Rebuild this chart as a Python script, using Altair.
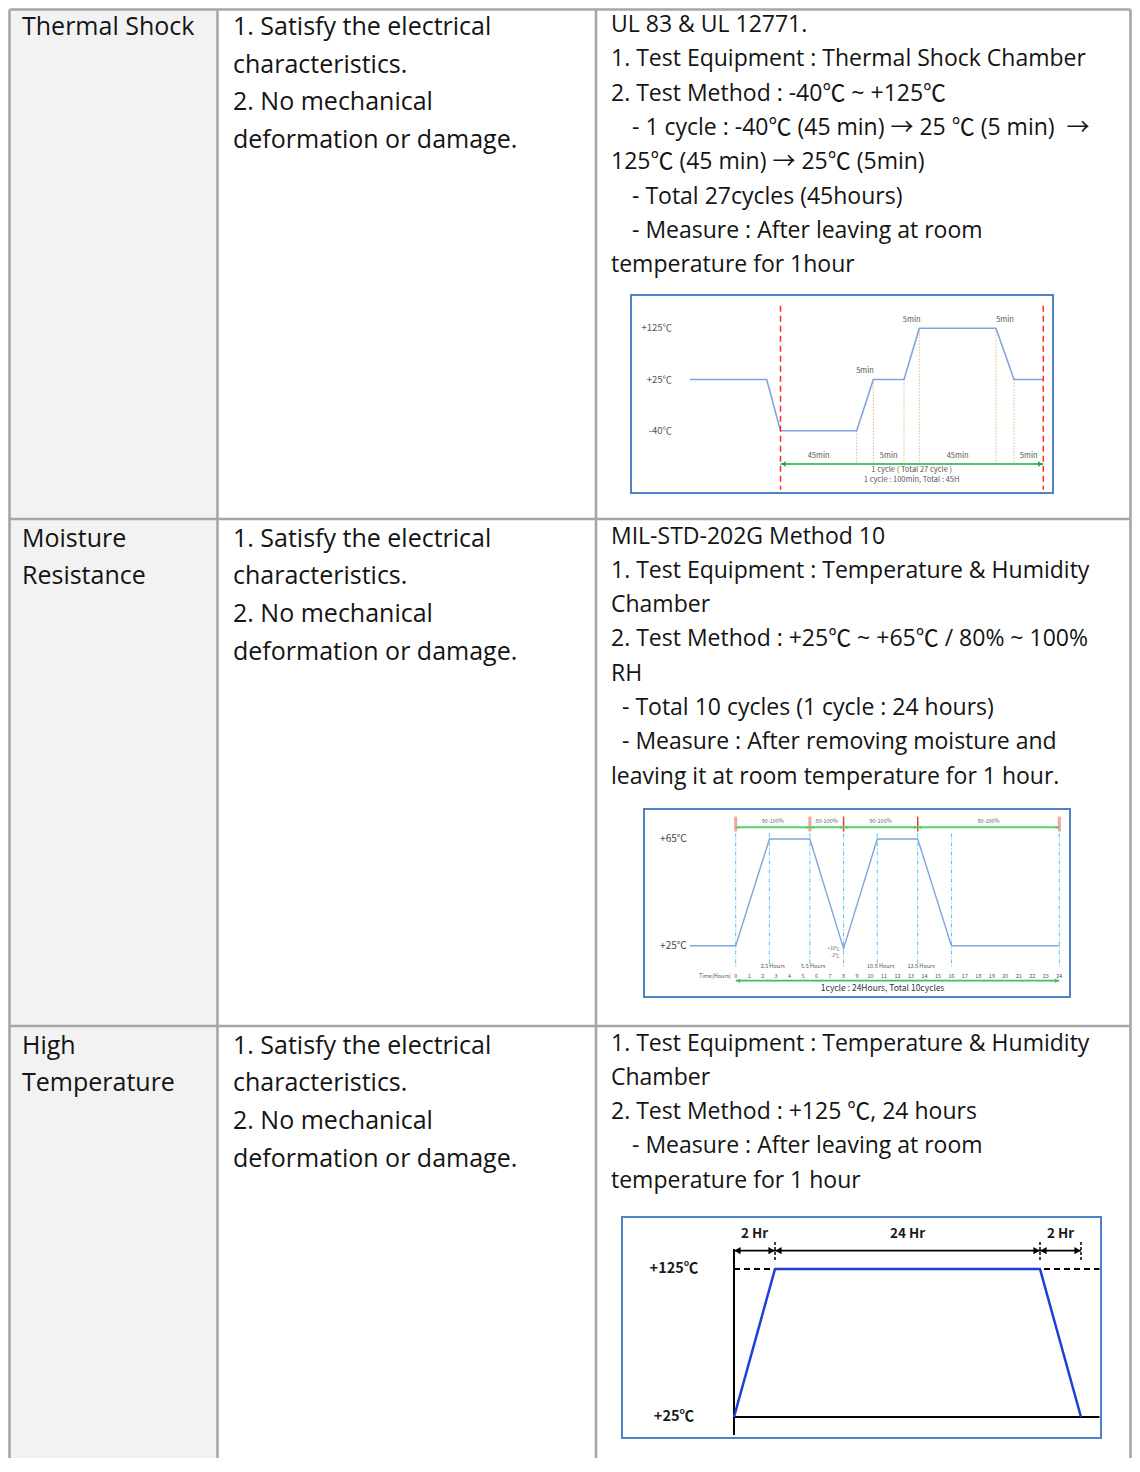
import altair as alt
import pandas as pd

# ============================ DATA ============================
DEG = "\u2103"
ARW = "\u2192"

row_titles = [["Thermal Shock"], ["Moisture", "Resistance"], ["High", "Temperature"]]
criteria = ["1. Satisfy the electrical", "characteristics.", "2. No mechanical",
            "deformation or damage."]
methods = [
    ["UL 83 & UL 12771.",
     "1. Test Equipment : Thermal Shock Chamber",
     f"2. Test Method : -40{DEG} ~ +125{DEG}",
     f"- 1 cycle : -40{DEG} (45 min) {ARW} 25 {DEG} (5 min) \u00a0{ARW}",
     f"125{DEG} (45 min) {ARW} 25{DEG} (5min)",
     "- Total 27cycles (45hours)",
     "- Measure : After leaving at room",
     "temperature for 1hour"],
    ["MIL-STD-202G Method 10",
     "1. Test Equipment : Temperature & Humidity",
     "Chamber",
     f"2. Test Method : +25{DEG} ~ +65{DEG} / 80% ~ 100%",
     "RH",
     "- Total 10 cycles (1 cycle : 24 hours)",
     "- Measure : After removing moisture and",
     "leaving it at room temperature for 1 hour."],
    ["1. Test Equipment : Temperature & Humidity",
     "Chamber",
     f"2. Test Method : +125 {DEG}, 24 hours",
     "- Measure : After leaving at room",
     "temperature for 1 hour"],
]

# Thermal shock profile (minutes on the drawn time line, degC)
ts_minutes = [-35, -5, 0, 45, 50, 55, 60, 105, 110, 115]
ts_temp = [25, 25, -40, -40, 25, 25, 125, 125, 25, 25]
ts_levels = [125, 25, -40]
ts_level_text = [f"+125{DEG}", f"+25{DEG}", f"-40{DEG}"]
ts_step_start = [0, 45, 50, 55, 60, 105, 110]
ts_step_end = [45, 50, 55, 60, 105, 110, 115]
ts_step_text = ["45min", "5min", "5min", "5min", "45min", "5min", "5min"]
ts_step_is_ramp = [False, True, False, True, False, True, False]
ts_cycle_bounds = [0, 115]
ts_notes = ["1 cycle ( Total 27 cycle )", "1 cycle : 100min, Total : 45H"]

# Moisture resistance profile (hours, degC)
mr_hours = [-3.4, 0, 2.5, 5.5, 8, 10.5, 13.5, 16, 24]
mr_temp = [25, 25, 65, 65, 24, 65, 65, 25, 25]
mr_levels = [65, 25]
mr_level_text = [f"+65{DEG}", f"+25{DEG}"]
mr_rh_start = [0, 5.5, 8, 13.5]
mr_rh_end = [5.5, 8, 13.5, 24]
mr_rh_text = ["90-100%", "80-100%", "90-100%", "80-100%"]
mr_marker_soft = [0, 5.5, 24]
mr_marker_hard = [8, 13.5]
mr_guides = [0, 2.5, 5.5, 8, 10.5, 13.5, 16, 24]
mr_phase_hours = [2.5, 5.5, 10.5, 13.5]
mr_phase_text = ["2.5 Hours", "5.5 Hours", "10.5 Hours", "13.5 Hours"]
mr_ticks = list(range(0, 25))
mr_dip_text = [f"+10{DEG}", f"-2{DEG}"]
mr_note = "1cycle : 24Hours, Total 10cycles"

# High temperature profile (hours, degC)
ht_hours = [0, 2, 26, 28]
ht_temp = [25, 125, 125, 25]
ht_levels = [125, 25]
ht_level_text = [f"+125{DEG}", f"+25{DEG}"]
ht_span_start = [0, 2, 26]
ht_span_end = [2, 26, 28]
ht_span_text = ["2 Hr", "24 Hr", "2 Hr"]

# ============================ LAYOUT ============================
PAGE = 8
W, H = 1124, 1450
FONT = "Open Sans, Noto Sans CJK KR, sans-serif"
DFONT = "Noto Sans CJK KR, sans-serif"


def R(vals):
    return [v - PAGE for v in vals]


def lin(domain, rng):
    return alt.Scale(domain=list(domain), range=R(rng), nice=False, zero=False)


def qx(f, s):
    return alt.X(f"{f}:Q", scale=s, axis=None)


def qy(f, s):
    return alt.Y(f"{f}:Q", scale=s, axis=None)


def texts(df, sx, sy, size, color, align="center", weight="normal", font=DFONT):
    return alt.Chart(df).mark_text(
        align=align, baseline="middle", fontSize=size, color=color,
        fontWeight=weight, font=font
    ).encode(x=qx("x", sx), y=qy("y", sy), text="label:N")


def vrules(xs, y1, y2, sx, sy, **style):
    df = pd.DataFrame({"x": list(xs)})
    df["y1"] = y1
    df["y2"] = y2
    return alt.Chart(df).mark_rule(**style).encode(
        x=qx("x", sx), y=qy("y1", sy), y2=alt.Y2("y2"))


def hrules(x1, x2, ys, sx, sy, **style):
    df = pd.DataFrame({"y": list(ys)})
    df["x1"] = x1
    df["x2"] = x2
    return alt.Chart(df).mark_rule(**style).encode(
        x=qx("x1", sx), x2=alt.X2("x2"), y=qy("y", sy))


def arrows(starts, ends, yv, sx, sy, color, width, size, off):
    seg = pd.DataFrame({"a": list(starts), "b": list(ends)})
    seg["y"] = yv
    rule = alt.Chart(seg).mark_rule(color=color, strokeWidth=width).encode(
        x=qx("a", sx), x2=alt.X2("b"), y=qy("y", sy))
    lh = alt.Chart(seg).mark_point(
        shape="triangle-left", filled=True, size=size, color=color, opacity=1,
        strokeWidth=0, xOffset=off).encode(x=qx("a", sx), y=qy("y", sy))
    rh = alt.Chart(seg).mark_point(
        shape="triangle-right", filled=True, size=size, color=color, opacity=1,
        strokeWidth=0, xOffset=-off).encode(x=qx("b", sx), y=qy("y", sy))
    return [rule, lh, rh]


# ---------------- table ----------------
TX = lin([PAGE, PAGE + W], [PAGE, PAGE + W])
TY = lin([PAGE, PAGE + H], [PAGE, PAGE + H])
COL_X = [9.5, 217.5, 596, 1130.5]
ROW_LINE_Y = [9.5, 519, 1026]
ROW_TOP = [7.5, 519, 1026]
BOTTOM = PAGE + H + 6
COL_TEXT_X = [22, 233, 611]
DASH_INDENT = [21, 11, 21]
BIG_FS, BIG_LH, BIG_OFF = 25, 37.7, 19.5
SM_FS, SM_LH, SM_OFF = 23, 34.3, 17.5
FRAMES = [(631, 1053, 295, 493), (644, 1070, 809, 997), (622, 1101, 1217, 1438)]

big_rows, small_rows = [], []
for r in range(3):
    for i, s in enumerate(row_titles[r]):
        big_rows.append({"x": COL_TEXT_X[0], "y": ROW_TOP[r] + BIG_OFF + i * BIG_LH, "label": s})
    for i, s in enumerate(criteria):
        big_rows.append({"x": COL_TEXT_X[1], "y": ROW_TOP[r] + BIG_OFF + i * BIG_LH, "label": s})
    for i, s in enumerate(methods[r]):
        ind = DASH_INDENT[r] if s.startswith("- ") else 0
        small_rows.append({"x": COL_TEXT_X[2] + ind, "y": ROW_TOP[r] + SM_OFF + i * SM_LH,
                           "label": s})

band = alt.Chart(pd.DataFrame({"x": [COL_X[0]], "x2": [COL_X[1]], "y": [COL_X[0]], "y2": [BOTTOM]})
                 ).mark_rect(color="#f2f2f2").encode(
    x=qx("x", TX), x2=alt.X2("x2"), y=qy("y", TY), y2=alt.Y2("y2"))
frames_df = pd.DataFrame(FRAMES, columns=["x", "x2", "y", "y2"])
frames = alt.Chart(frames_df).mark_rect(fill="white", stroke="#4f81c7", strokeWidth=2).encode(
    x=qx("x", TX), x2=alt.X2("x2"), y=qy("y", TY), y2=alt.Y2("y2"))
grid_v = vrules(COL_X, ROW_LINE_Y[0], BOTTOM, TX, TY, color="#a6a6a6", strokeWidth=2.6)
grid_h = hrules(COL_X[0], COL_X[-1], ROW_LINE_Y, TX, TY, color="#a6a6a6", strokeWidth=2.6)
big_text = texts(pd.DataFrame(big_rows), TX, TY, BIG_FS, "#141414", align="left", font=FONT)
small_text = texts(pd.DataFrame(small_rows), TX, TY, SM_FS, "#141414", align="left", font=FONT)
table = alt.layer(band, grid_v, grid_h, frames, big_text, small_text)

# ---------------- diagram 1 : thermal shock ----------------
S1X = lin(ts_minutes, [690, 766.7, 780.5, 856.7, 873.3, 904, 919.3, 996, 1014, 1043.3])
S1Y = lin([-40, 25, 125], [430.7, 379.5, 328.3])
temp_at = dict(zip(ts_minutes, ts_temp))
step_rows = []
for s, e, t, ramp in zip(ts_step_start, ts_step_end, ts_step_text, ts_step_is_ramp):
    yv = max(temp_at[s], temp_at[e]) + 16 if ramp else -72
    step_rows.append({"x": (s + e) / 2, "y": yv, "label": t})
d1 = [
    vrules(ts_step_start[1:], [temp_at[t] for t in ts_step_start[1:]], -80.7, S1X, S1Y,
           color="#f4b183", strokeWidth=1, strokeDash=[1.5, 1.5]),
    alt.Chart(pd.DataFrame({"x": ts_minutes, "y": ts_temp})).mark_line(
        color="#7ea6da", strokeWidth=1.6).encode(x=qx("x", S1X), y=qy("y", S1Y)),
    vrules(ts_cycle_bounds, 169, -115, S1X, S1Y, color="#ff2b2b", strokeWidth=1.5,
           strokeDash=[6, 4]),
    texts(pd.DataFrame(step_rows), S1X, S1Y, 7.5, "#555555"),
    *arrows(ts_cycle_bounds[:1], ts_cycle_bounds[1:], -82.4, S1X, S1Y, "#1fa84a", 1.5, 30, 3),
    texts(pd.DataFrame({"x": [57.5, 57.5], "y": [-90.1, -102.9], "label": ts_notes}),
          S1X, S1Y, 7.5, "#555555"),
    texts(pd.DataFrame({"x": [-42] * 3, "y": ts_levels, "label": ts_level_text}),
          S1X, S1Y, 9.5, "#555555", align="right"),
]
diag1 = alt.layer(*d1)

# ---------------- diagram 2 : moisture resistance ----------------
S2X = lin([0, 24], [735.7, 1059.3])
S2Y = lin([25, 65], [945.7, 839])
d2 = [
    vrules(mr_guides, 67.1, 16.5, S2X, S2Y, color="#4fc3f7", strokeWidth=1,
           strokeDash=[4, 2, 1, 2]),
    alt.Chart(pd.DataFrame({"x": mr_hours, "y": mr_temp})).mark_line(
        color="#7ea6da", strokeWidth=1.4).encode(x=qx("x", S2X), y=qy("y", S2Y)),
    vrules(mr_marker_soft, 67.8, 73.4, S2X, S2Y, color="#f7a1a1", strokeWidth=3),
    vrules(mr_marker_hard, 67.8, 73.4, S2X, S2Y, color="#e53935", strokeWidth=1.5),
    *arrows(mr_rh_start, mr_rh_end, 69.4, S2X, S2Y, "#5ccf6e", 2, 14, 2),
    texts(pd.DataFrame({"x": [(a + b) / 2 for a, b in zip(mr_rh_start, mr_rh_end)],
                        "y": 71.9, "label": mr_rh_text}), S2X, S2Y, 5.5, "#666666"),
    texts(pd.DataFrame({"x": [h + 0.25 for h in mr_phase_hours], "y": 17.4,
                        "label": mr_phase_text}), S2X, S2Y, 5.5, "#555555"),
    texts(pd.DataFrame({"x": mr_ticks, "y": 13.75, "label": [str(t) for t in mr_ticks]}),
          S2X, S2Y, 5.5, "#555555"),
    texts(pd.DataFrame({"x": [-0.35], "y": [13.75], "label": ["Time(Hours)"]}),
          S2X, S2Y, 5.5, "#555555", align="right"),
    *arrows([0], [24], 11.9, S2X, S2Y, "#3fbf5f", 1.6, 20, 2.5),
    texts(pd.DataFrame({"x": [10.9], "y": [9.25], "label": [mr_note]}), S2X, S2Y, 8.5, "#333333"),
    texts(pd.DataFrame({"x": [-3.63] * 2, "y": mr_levels, "label": mr_level_text}),
          S2X, S2Y, 10, "#444444", align="right"),
    texts(pd.DataFrame({"x": [7.7] * 2, "y": [23.7, 21.2], "label": mr_dip_text}),
          S2X, S2Y, 4.5, "#555555", align="right"),
]
diag2 = alt.layer(*d2)

# ---------------- diagram 3 : high temperature ----------------
S3X = lin(ht_hours, [734, 775, 1040, 1081])
S3Y = lin([25, 125], [1417, 1269])
d3 = [
    hrules(0, 28.9, [125], S3X, S3Y, color="black", strokeWidth=2, strokeDash=[6, 4]),
    hrules(0, 28.9, [25], S3X, S3Y, color="black", strokeWidth=2),
    vrules([0], 12.8, 138.5, S3X, S3Y, color="black", strokeWidth=2),
    vrules(ht_span_end, 131.1, 143.2, S3X, S3Y, color="black", strokeWidth=1.5,
           strokeDash=[3, 2]),
    alt.Chart(pd.DataFrame({"x": ht_hours, "y": ht_temp})).mark_line(
        color="#1d3fd6", strokeWidth=2.5).encode(x=qx("x", S3X), y=qy("y", S3Y)),
    *arrows(ht_span_start, ht_span_end, 137.4, S3X, S3Y, "black", 1.8, 50, 3.5),
    texts(pd.DataFrame({"x": [(a + b) / 2 for a, b in zip(ht_span_start, ht_span_end)],
                        "y": 148.6, "label": ht_span_text}), S3X, S3Y, 13.5, "#1a1a1a",
          weight="bold"),
    texts(pd.DataFrame({"x": [-2.93] * 2, "y": ht_levels, "label": ht_level_text}),
          S3X, S3Y, 14.5, "#1a1a1a", weight="bold"),
]
diag3 = alt.layer(*d3)

chart = alt.layer(table, diag1, diag2, diag3).resolve_scale(
    x="independent", y="independent"
).properties(
    width=W, height=H, padding=0, autosize=alt.AutoSizeParams(type="none")
).configure_view(stroke=None)

chart.save("out.html", embed_options={"renderer": "svg", "actions": False})
